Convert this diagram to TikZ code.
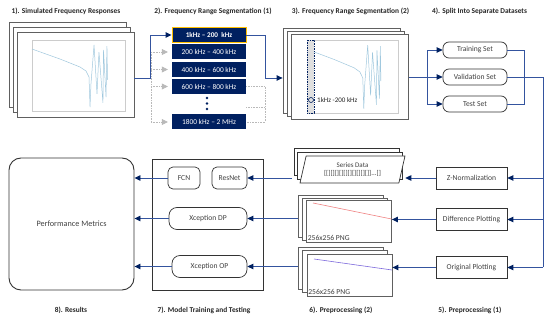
\documentclass[tikz,border=0pt]{standalone}
\usepackage{fontspec}
\setmainfont{Carlito}
\definecolor{SegNavy}{RGB}{0,32,96}
\definecolor{LinkBlue}{RGB}{52,84,158}
\definecolor{FrameGray}{RGB}{96,96,96}
\definecolor{CurveBlue}{RGB}{160,200,222}
\definecolor{SegOrange}{RGB}{255,192,0}
\definecolor{DiffRed}{RGB}{240,130,130}
\definecolor{OrigViolet}{RGB}{125,105,220}
\usetikzlibrary{positioning,shapes.geometric,arrows.meta,calc}
\tikzset{>={Triangle[length=6pt,width=5.5pt]}}
\tikzset{titles/.style={font=\bfseries\fontsize{7.4}{8}\selectfont, text=black!85}}
\tikzset{boxtext/.style={font=\fontsize{7.6}{8.5}\selectfont, text=black!75}}
\tikzset{frames/.style={draw=FrameGray, fill=white, line width=.8pt, minimum width=117pt, minimum height=85pt, inner sep=0pt}}
\tikzset{pngframes/.style={frames, minimum width=85pt, minimum height=42pt}}
\tikzset{segboxes/.style={fill=SegNavy, text=white, minimum width=74pt, minimum height=15pt, inner sep=0pt, font=\fontsize{7.4}{8}\selectfont}}
\tikzset{setboxes/.style={boxtext, draw=black!80, fill=white, rounded corners=6pt, minimum width=64pt, minimum height=16pt, inner sep=0pt, line width=.7pt}}
\tikzset{prepboxes/.style={boxtext, draw=black!80, minimum width=71pt, minimum height=22pt, inner sep=0pt, line width=.7pt}}
\tikzset{modelboxes/.style={boxtext, draw=black!80, rounded corners=5pt, minimum height=22pt, inner sep=0pt, line width=.7pt}}
\tikzset{serboxes/.style={trapezium, trapezium left angle=66, trapezium right angle=114, trapezium stretches body, draw=black!80, fill=white, minimum width=105pt, minimum height=27pt, inner sep=0pt, line width=.7pt}}
\tikzset{links/.style={->, draw=LinkBlue, line width=.9pt, >={Triangle[length=6pt,width=5.5pt,color=SegNavy]}}}
\tikzset{lines/.style={draw=LinkBlue, line width=.9pt}}
\tikzset{dimlinks/.style={draw=gray!55, densely dotted, line width=.6pt}}
\tikzset{dimarrows/.style={dimlinks, -{Triangle[length=6pt,width=6pt,color=gray!55]}, shorten >=4pt}}
\tikzset{curves/.style={draw=CurveBlue, line width=.5pt}}
\tikzset{respplot/.pic={
    \draw[gray!40, line width=.4pt] (0,0) rectangle (1,1);
    \draw[curves] plot coordinates {(0,.127) (.301,.268) (.516,.380) (.581,.437) (.613,.521) (.624,.944) (.634,.62) (.667,.07) (.699,.76) (.72,.17) (.763,.887) (.769,.141) (.796,.803) (.806,.085) (.812,.563)};
}}
\begin{document}
\begin{tikzpicture}[x=1pt, y=-1pt]
    \useasboundingbox (0,0) rectangle (550,323);
    % titles
    \node[titles] (t1) at (66,11) {1). Simulated Frequency Responses};
    \node[titles] (t2) at (213,11) {2). Frequency Range Segmentation (1)};
    \node[titles] (t3) at (350.5,11) {3). Frequency Range Segmentation (2)};
    \node[titles] (t4) at (479.5,11) {4). Split Into Separate Datasets};
    \node[titles] (t8) at (71,310) {8). Results};
    \node[titles] (t7) at (204,310) {7). Model Training and Testing};
    \node[titles] (t6) at (341,310) {6). Preprocessing (2)};
    \node[titles] (t5) at (470,310) {5). Preprocessing (1)};

    \node[frames] (frA) at (68,64.5) {};
    \node[frames] (frB) at (71.5,69.5) {};
    \node[frames] (frC) at (75.5,74.5) {};
    \pic[xscale=93, yscale=71] at (32,40) {respplot};

    \node[segboxes, draw=SegOrange, line width=.9pt, font=\bfseries\fontsize{7.2}{8}\selectfont] (seg1) at (209,35) {1kHz -- 200\ \ kHz};
    \node[segboxes] (seg2) at (209,52) {200 kHz -- 400 kHz};
    \node[segboxes] (seg3) at (209,69.5) {400 kHz -- 600 kHz};
    \node[segboxes] (seg4) at (209,86.5) {600 kHz -- 800 kHz};
    \node[segboxes] (seg5) at (209,122) {1800 kHz -- 2 MHz};
    \foreach \y in {98,103.5,109}
        \fill[SegNavy] (207,\y) circle (1.4pt);

    \draw[links] ([yshift=-3.5pt]frC.east) -- ++(16,0) |- (seg1.west);
    \coordinate (dimtop) at (151,52);
    \coordinate (dimbot) at (151,122);
    \draw[dimlinks] (dimtop) -- (dimbot);
    \foreach \s in {seg2,seg3,seg4,seg5}
        \draw[dimarrows] (dimtop |- \s.west) -- (\s.west);

    \node[frames] (frmA) at (341.5,70.5) {};
    \node[frames] (frmB) at (345.5,73.5) {};
    \node[frames] (frmC) at (350,77) {};
    \pic[xscale=91, yscale=73] at (307,40) {respplot};
    \draw[densely dotted, draw=SegNavy, fill=gray!25, line width=.7pt] (307,40) rectangle (314,113);
    \draw[SegNavy, line width=.6pt] (311,100) circle (2.5pt);
    \node[boxtext, anchor=west, inner sep=0pt, font=\fontsize{7}{8}\selectfont, text=black!85] (hl) at (317,100) {1kHz -200 kHz};

    \draw[links] (seg1.east) -- ++(19,0) |- ([yshift=-7.5pt]frmA.west);
    \coordinate (dimR) at (265,107);
    \draw[dimlinks] (seg4.east) -| (dimR |- seg5.east) -- (seg5.east);
    \draw[dimlinks] (seg4.east |- dimR) -- (dimR);

    \node[setboxes] (train) at (475,50) {Training Set};
    \node[setboxes] (valid) at (475,77) {Validation Set};
    \node[setboxes] (test) at (475,104) {Test Set};
    \coordinate (split) at (427,77);
    \draw[lines] (frmC.east) -- (split);
    \draw[links] (split) -- (valid.west);
    \draw[links] (split) |- (train.west);
    \draw[links] (split) |- (test.west);
    \draw[lines] (train.east) -- ++(17,0) |- (test.east);

    \node[prepboxes] (znorm) at (471.5,178) {Z-Normalization};
    \node[prepboxes] (diff) at (471.5,219.5) {Difference Plotting};
    \node[prepboxes] (orig) at (471.5,267.5) {Original Plotting};
    \coordinate (bus) at (543,0);
    \draw[lines] (valid.east) -| (bus |- orig.east);
    \foreach \b in {znorm,diff,orig}
        \draw[links] (bus |- \b.east) -- (\b.east);

    \node[serboxes] (serA) at (346.5,161.5) {};
    \node[serboxes] (serB) at (349.5,165.5) {};
    \node[serboxes, boxtext, align=center, font=\fontsize{7}{8}\selectfont] (serC) at (352.5,169.5) {Series Data\\{}[[][][][][][][][][][]]...[]};
    \draw[links, shorten >=3pt] (znorm.west) -- (znorm.west -| serC.east);

    \node[pngframes] (dfA) at (340.5,216) {};
    \node[pngframes] (dfB) at (344.5,219) {};
    \node[pngframes] (dfC) at (349,221) {};
    \draw[DiffRed, line width=.6pt] (313,203) -- (391.5,219);
    \node[boxtext, anchor=south west, inner sep=1.5pt] (dfpng) at (dfC.south west) {256x256 PNG};
    \draw[links] (diff.west) -- (diff.west -| dfC.east);

    \node[pngframes] (ogA) at (340.5,268) {};
    \node[pngframes] (ogB) at (344.5,271) {};
    \node[pngframes] (ogC) at (349.5,275) {};
    \draw[OrigViolet, line width=.6pt] (314,259) -- (392,270);
    \node[boxtext, anchor=south west, inner sep=1.5pt] (ogpng) at (ogC.south west) {256x256 PNG};
    \draw[links] (orig.west) -- (orig.west -| ogC.east);

    \node[draw=black!80, line width=.9pt, minimum width=111pt, minimum height=131pt] (model) at (207.5,224.5) {};
    \node[modelboxes, minimum width=32pt] (fcn) at (184,178) {FCN};
    \node[modelboxes, minimum width=35pt] (resnet) at (229.5,178) {ResNet};
    \node[modelboxes, minimum width=78pt, rounded corners=8pt] (xdp) at (208,218.5) {Xception DP};
    \node[modelboxes, minimum width=75pt, rounded corners=8pt] (xop) at (209.5,266.5) {Xception OP};
    \draw[links] ([xshift=-2pt]serA.bottom left corner |- resnet.east) -- (resnet.east);
    \draw[links] (dfA.west |- xdp.east) -- (xdp.east);
    \draw[links] (ogA.west |- xop.east) -- (xop.east);

    \node[boxtext, draw=black!80, line width=.9pt, rounded corners=12pt, minimum width=125pt, minimum height=132pt, font=\fontsize{8.2}{9}\selectfont] (perf) at (71.5,224) {Performance Metrics};
    \foreach \m in {fcn,xdp,xop}
        \draw[links] (\m.west) -- (\m.west -| perf.east);
\end{tikzpicture}
\end{document}
